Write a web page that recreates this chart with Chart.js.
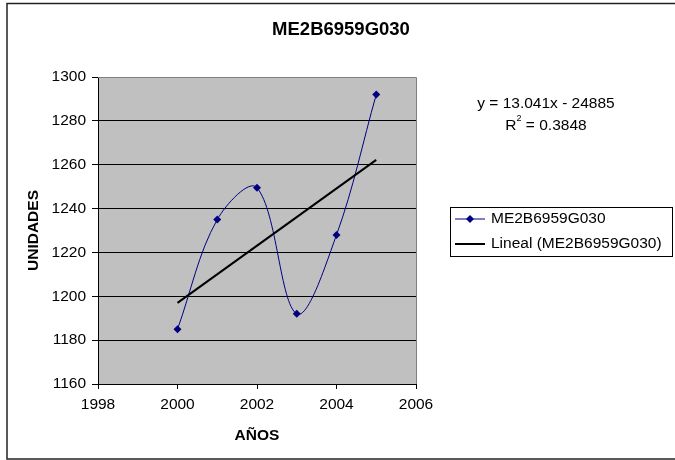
<!DOCTYPE html>
<html><head><meta charset="utf-8">
<script src="https://cdn.jsdelivr.net/npm/chart.js@4/dist/chart.umd.min.js"></script>
<style>html,body{margin:0;padding:0;background:#fff}#wrap{width:675px;height:460px;position:relative}</style>
</head><body><div id="wrap"><canvas id="c" width="675" height="460"></canvas></div>
<script>
const chartTitle = 'ME2B6959G030';
const years = [2000, 2001, 2002, 2003, 2004, 2005];
const units = [1185, 1235, 1249.5, 1192, 1228, 1292];
const trendYears = [2000, 2005];
const trendUnits = [1197.0, 1262.2];
const seriesLabel = 'ME2B6959G030';
const trendLabel = 'Lineal (ME2B6959G030)';
const equationLine = 'y = 13.041x - 24885';
const r2Value = '0.3848';
const xTitle = 'AÑOS';
const yTitle = 'UNIDADES';
const xTicks = [1998, 2000, 2002, 2004, 2006];
const yTicks = [1160, 1180, 1200, 1220, 1240, 1260, 1280, 1300];

const FONT = '"Liberation Sans", Arial, sans-serif';
const NAVY = '#000080';

const decor = {
  id: 'decor',
  beforeDraw(chart) {
    const {ctx, chartArea: a} = chart;
    ctx.save();
    ctx.fillStyle = '#fff';
    ctx.fillRect(0, 0, chart.width, chart.height);
    ctx.fillStyle = '#c0c0c0';
    ctx.fillRect(a.left, a.top, a.right - a.left, a.bottom - a.top);
    ctx.restore();
  },
  beforeDatasetsDraw(chart) {
    const {ctx, chartArea: a} = chart;
    ctx.save();
    ctx.strokeStyle = '#808080';
    ctx.lineWidth = 1;
    ctx.beginPath();
    ctx.moveTo(a.left, a.top + 0.5);
    ctx.lineTo(a.right + 0.5, a.top + 0.5);
    ctx.lineTo(a.right + 0.5, a.bottom);
    ctx.stroke();
    ctx.restore();
  },
  afterDraw(chart) {
    const {ctx} = chart;
    ctx.save();
    ctx.strokeStyle = '#222';
    ctx.lineWidth = 1.5;
    ctx.strokeRect(7, 3.5, 700, 455.5);
    ctx.fillStyle = '#000';
    ctx.textAlign = 'center';
    ctx.textBaseline = 'middle';
    ctx.font = 'bold 18.5px ' + FONT;
    ctx.fillText(chartTitle, 341, 30);
    ctx.font = '15.5px ' + FONT;
    ctx.fillText(equationLine, 546, 104);
    const rest = ' = ' + r2Value;
    const wR = ctx.measureText('R').width;
    ctx.font = '9px ' + FONT;
    const w2 = ctx.measureText('2').width;
    ctx.font = '15.5px ' + FONT;
    const wRest = ctx.measureText(rest).width;
    let x0 = 546 - (wR + w2 + wRest) / 2;
    ctx.textAlign = 'left';
    ctx.fillText('R', x0, 126);
    ctx.font = '9px ' + FONT;
    ctx.fillText('2', x0 + wR, 119);
    ctx.font = '15.5px ' + FONT;
    ctx.fillText(rest, x0 + wR + w2, 126);
    ctx.strokeStyle = '#000';
    ctx.lineWidth = 1;
    ctx.strokeRect(450.5, 207.5, 222, 49);
    ctx.strokeStyle = NAVY;
    ctx.lineWidth = 1;
    ctx.beginPath(); ctx.moveTo(455, 219); ctx.lineTo(485, 219); ctx.stroke();
    ctx.fillStyle = NAVY;
    ctx.beginPath(); ctx.moveTo(470, 215); ctx.lineTo(474, 219); ctx.lineTo(470, 223); ctx.lineTo(466, 219); ctx.closePath(); ctx.fill();
    ctx.strokeStyle = '#000';
    ctx.lineWidth = 2;
    ctx.beginPath(); ctx.moveTo(455, 244); ctx.lineTo(485, 244); ctx.stroke();
    ctx.fillStyle = '#000';
    ctx.textBaseline = 'middle';
    ctx.fillText(chart.data.datasets[1].label, 491, 219);
    ctx.fillText(chart.data.datasets[0].label, 491, 244);
    ctx.restore();
  }
};

new Chart(document.getElementById('c'), {
  type: 'scatter',
  data: {
    datasets: [
      {
        label: trendLabel,
        data: trendYears.map((x, i) => ({x, y: trendUnits[i]})),
        showLine: true,
        borderColor: '#000',
        borderWidth: 2,
        pointRadius: 0,
        tension: 0,
        order: 0
      },
      {
        label: seriesLabel,
        data: years.map((x, i) => ({x, y: units[i]})),
        showLine: true,
        borderColor: NAVY,
        borderWidth: 1,
        backgroundColor: NAVY,
        pointStyle: 'rectRot',
        pointRadius: 4,
        pointBorderWidth: 0,
        tension: 0.35,
        order: 1
      }
    ]
  },
  options: {
    responsive: false,
    animation: false,
    devicePixelRatio: 1,
    layout: {padding: {left: 0, top: 77, right: 259, bottom: 0}},
    plugins: {legend: {display: false}, tooltip: {enabled: false}, title: {display: false}},
    scales: {
      x: {
        type: 'linear',
        min: 1998, max: 2006,
        afterFit: s => { s.height = 76; },
        afterBuildTicks: s => { s.ticks = xTicks.map(v => ({value: v})); },
        grid: {display: true, drawOnChartArea: false, drawTicks: true, tickLength: 5, color: '#000', tickColor: '#000'},
        border: {display: true, color: '#000', width: 1},
        ticks: {color: '#000', font: {family: FONT, size: 15.5}, padding: 6, maxRotation: 0, autoSkip: false, callback: v => String(v)},
        title: {display: true, text: xTitle, color: '#000', font: {family: FONT, size: 15.5, weight: 'bold'}, padding: {top: 0, bottom: 15}}
      },
      y: {
        type: 'linear',
        min: 1160, max: 1300,
        afterFit: s => { s.width = 98; },
        afterBuildTicks: s => { s.ticks = yTicks.map(v => ({value: v})); },
        grid: {display: true, drawTicks: true, tickLength: 6, color: c => (c.tick && c.tick.value === 1300) ? '#808080' : '#000', tickColor: '#000'},
        border: {display: true, color: '#000', width: 1},
        ticks: {color: '#000', font: {family: FONT, size: 15.5}, padding: 6, autoSkip: false, callback: v => String(v)},
        title: {display: true, text: yTitle, color: '#000', font: {family: FONT, size: 15.5, weight: 'bold'}, padding: {top: 24, bottom: 0}}
      }
    }
  },
  plugins: [decor]
});
</script>
</body></html>
